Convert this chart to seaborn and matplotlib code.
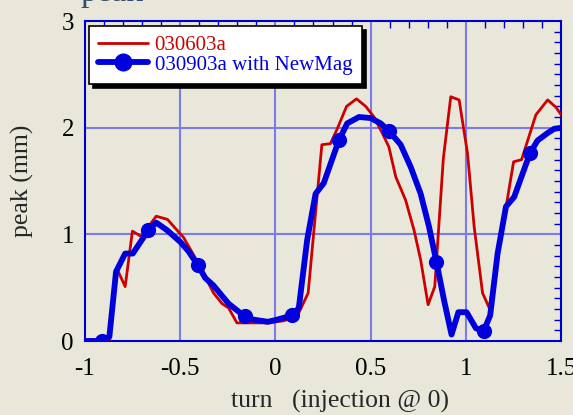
import numpy as np
import pandas as pd
import matplotlib
matplotlib.use("Agg")
import matplotlib.pyplot as plt
from matplotlib.lines import Line2D
from matplotlib.ticker import MultipleLocator
import seaborn as sns

# ---- data ----
red_x = [-1.0, -0.87, -0.833, -0.789, -0.751, -0.705, -0.626, -0.567, -0.482, -0.421,
         -0.368, -0.325, -0.28, -0.246, -0.202, -0.114, -0.035, 0.044, 0.114, 0.172,
         0.244, 0.289, 0.325, 0.374, 0.426, 0.474, 0.518, 0.561, 0.596, 0.632,
         0.684, 0.728, 0.763, 0.802, 0.837, 0.882, 0.921, 0.965, 1.009, 1.044,
         1.088, 1.123, 1.251, 1.293, 1.368, 1.43, 1.474, 1.509]
red_y = [0.01, 0.01, 0.68, 0.51, 1.03, 0.98, 1.17, 1.14, 0.97, 0.78,
         0.60, 0.45, 0.35, 0.31, 0.17, 0.17, 0.17, 0.19, 0.23, 0.45,
         1.84, 1.85, 1.99, 2.20, 2.27, 2.20, 2.10, 1.95, 1.82, 1.54,
         1.32, 1.04, 0.76, 0.34, 0.51, 1.71, 2.29, 2.26, 1.76, 1.07,
         0.45, 0.31, 1.68, 1.70, 2.12, 2.26, 2.19, 2.10]

blue_x = [-1.0, -0.912, -0.872, -0.837, -0.789, -0.749, -0.667, -0.626, -0.57, -0.5,
          -0.456, -0.407, -0.368, -0.325, -0.246, -0.161, -0.114, -0.039, 0.009, 0.088,
          0.123, 0.167, 0.211, 0.254, 0.333, 0.377, 0.439, 0.5, 0.553, 0.596,
          0.658, 0.711, 0.763, 0.807, 0.846, 0.886, 0.925, 0.961, 1.004, 1.053,
          1.093, 1.128, 1.167, 1.211, 1.254, 1.337, 1.377, 1.43, 1.465, 1.509]
blue_y = [0.0, 0.0, 0.04, 0.65, 0.82, 0.82, 1.04, 1.11, 1.04, 0.93,
          0.84, 0.71, 0.59, 0.52, 0.35, 0.23, 0.20, 0.18, 0.20, 0.24,
          0.31, 0.95, 1.38, 1.48, 1.88, 2.04, 2.10, 2.09, 2.04, 1.97,
          1.84, 1.63, 1.38, 1.07, 0.74, 0.38, 0.06, 0.27, 0.27, 0.12,
          0.09, 0.24, 0.82, 1.26, 1.35, 1.76, 1.88, 1.95, 1.99, 2.00]
blue_marker_x = [-0.912, -0.667, -0.407, -0.161, 0.088, 0.333, 0.596, 0.846, 1.093, 1.337]

red_label = "030603a"
blue_label = "030903a with NewMag"
x_ticks = [-1, -0.5, 0, 0.5, 1, 1.5]
x_tick_labels = ["-1", "-0.5", "0", "0.5", "1", "1.5"]
y_ticks = [0, 1, 2, 3]
y_tick_labels = ["0", "1", "2", "3"]

# ---- style ----
RED = "#CC0000"
BLUE = "#0000DD"
FRAME = "#0000CC"
GRID = "#7B7BEE"
BG = "#E8E7DA"

sns.set_style("white")
plt.rcParams["font.family"] = ["Liberation Serif", "DejaVu Serif"]

fig = plt.figure(figsize=(5.73, 4.15), dpi=100, facecolor=BG)
ax = fig.add_axes([85 / 573, 1 - 341 / 415, 476 / 573, 320 / 415])
ax.set_facecolor(BG)

red_df = pd.DataFrame({"x": red_x, "y": red_y})
blue_df = pd.DataFrame({"x": blue_x, "y": blue_y})
mk_df = blue_df[blue_df["x"].isin(blue_marker_x)]

sns.lineplot(data=red_df, x="x", y="y", sort=False, estimator=None, ax=ax,
             color=RED, linewidth=2.0, zorder=3)
sns.lineplot(data=blue_df, x="x", y="y", sort=False, estimator=None, ax=ax,
             color=BLUE, linewidth=4.2, zorder=4)
sns.scatterplot(data=mk_df, x="x", y="y", ax=ax, color=BLUE, s=120,
                edgecolor=BLUE, linewidth=0, zorder=5)

ax.set_xlim(-1, 1.5)
ax.set_ylim(0, 3)
ax.set_xticks(x_ticks)
ax.set_xticklabels(x_tick_labels)
ax.set_yticks(y_ticks)
ax.set_yticklabels(y_tick_labels)
ax.xaxis.set_minor_locator(MultipleLocator(0.1))
ax.yaxis.set_minor_locator(MultipleLocator(0.1))
ax.tick_params(which="both", direction="in", top=True, right=True,
               color=FRAME, labelsize=18, labelcolor="black")
ax.tick_params(which="major", length=0)
ax.tick_params(axis="x", which="major", pad=12)
ax.tick_params(axis="y", which="major", pad=8)
ax.tick_params(which="minor", length=5, width=1)
for s in ax.spines.values():
    s.set_visible(True)
    s.set_color(FRAME)
    s.set_linewidth(1.5)

for xv in [-0.5, 0, 0.5, 1]:
    ax.axvline(xv, color=GRID, linewidth=1.5, zorder=1)
for yv in [1, 2]:
    ax.axhline(yv, color=GRID, linewidth=1.5, zorder=1)

ax.set_xlabel("turn   (injection @ 0)", fontsize=18.5)
ax.xaxis.set_label_coords((340 - 85) / 476, -0.188)
ax.xaxis.label.set_va("center")
ax.set_ylabel("peak (mm)", fontsize=18.5, labelpad=20)

handles = [Line2D([0], [0], color=RED, linewidth=2.0),
           Line2D([0], [0], color=BLUE, linewidth=4.2, marker="o", markersize=12)]
leg = ax.legend(handles, [red_label, blue_label], loc="upper left",
                bbox_to_anchor=(4 / 476, 1 - 5 / 320), borderaxespad=0, fontsize=15,
                frameon=True, fancybox=False, framealpha=1, edgecolor="black",
                handlelength=2.4, handletextpad=0.3, borderpad=0.45,
                labelspacing=0.0,
                shadow={"color": "black", "alpha": 1, "ox": 3, "oy": -3})
leg.get_frame().set_linewidth(1.2)
for t, c in zip(leg.get_texts(), [RED, BLUE]):
    t.set_color(c)

fig.text(80 / 573, 1 - 0.5 / 415, "peak", fontsize=24, color="#2F4F6F",
         va="baseline", ha="left")

fig.savefig("out.png", dpi=100, facecolor=BG)
